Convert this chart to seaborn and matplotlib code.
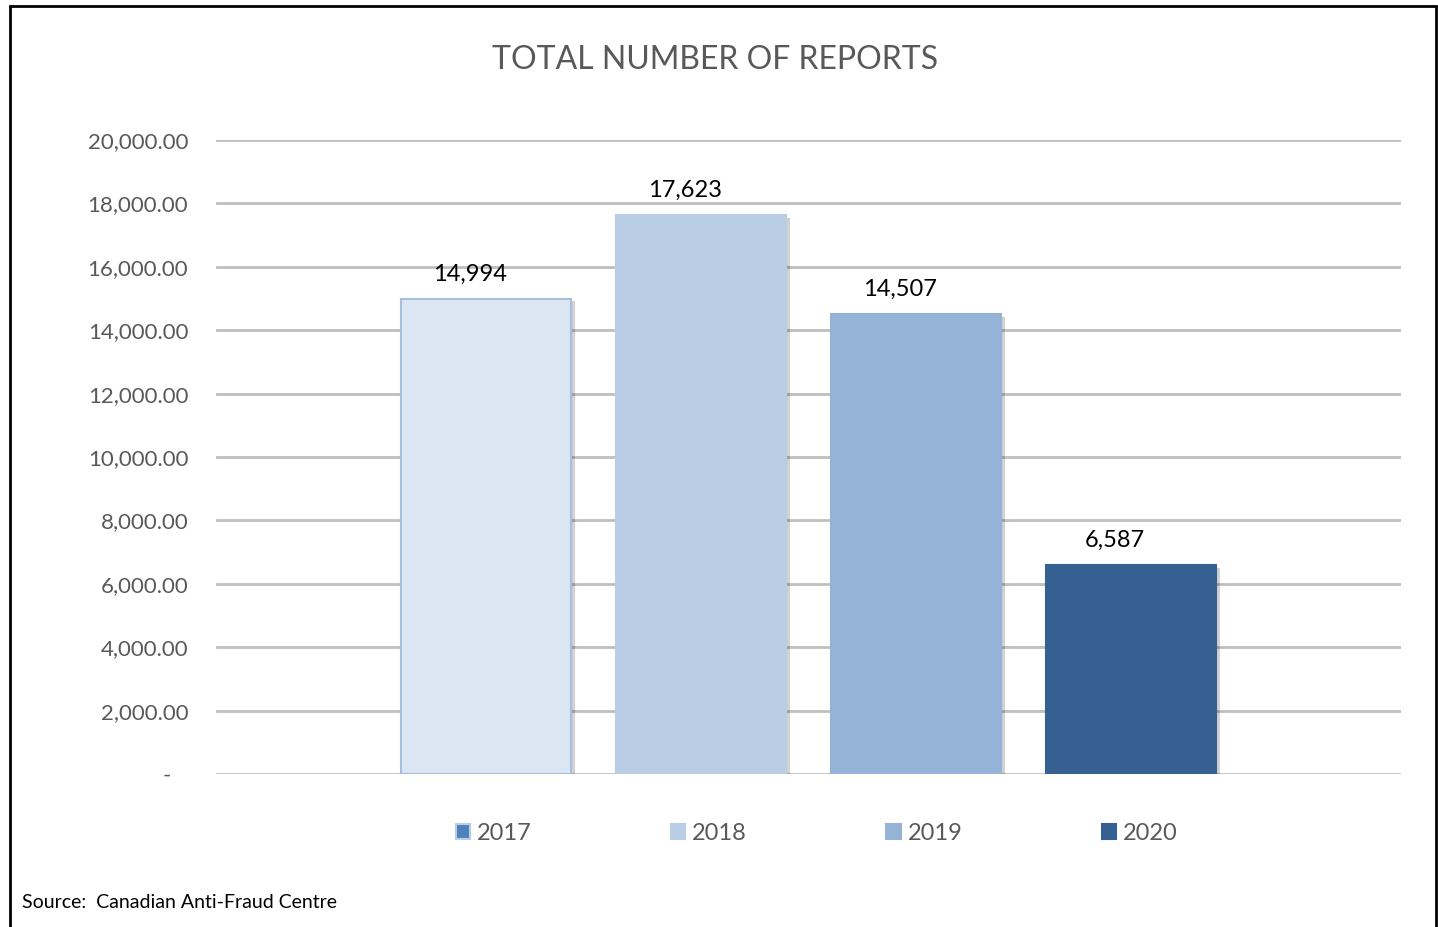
import matplotlib
matplotlib.use("Agg")
import matplotlib.pyplot as plt
import matplotlib.patheffects as pe
from matplotlib.patches import Patch, Rectangle
from matplotlib.ticker import FuncFormatter
import seaborn as sns
import pandas as pd

years = ["2017", "2018", "2019", "2020"]
reports = [14994, 17623, 14507, 6587]
bar_colors = ["#DCE6F2", "#B9CDE5", "#95B3D7", "#376092"]
edge_colors = ["#A7BFDE", "#B9CDE5", "#95B3D7", "#376092"]
legend_colors = ["#4F81BD", "#B9CDE5", "#95B3D7", "#376092"]
yticks = list(range(0, 20001, 2000))

sns.set_theme(style="white")
plt.rcParams['font.family'] = ['Lato', 'DejaVu Sans']

df = pd.DataFrame({"year": years, "reports": reports})

fig = plt.figure(figsize=(14.38, 9.27), dpi=100)
ax = fig.add_axes([216/1438, 1-774/927, (1401-216)/1438, (774-140)/927])

sns.barplot(data=df, x="year", y="reports", hue="year", palette=bar_colors,
            width=0.79, ax=ax, legend=False, saturation=1, zorder=3)

for patch, ec in zip(ax.patches, edge_colors):
    patch.set_edgecolor(ec)
    patch.set_linewidth(1.5)
    patch.set_path_effects([pe.SimplePatchShadow(offset=(3, -2), shadow_rgbFace="#000000", alpha=0.18),
                            pe.Normal()])

ax.set_xlim(-1.256, 4.256)
ax.set_ylim(0, 20000)
ax.set_yticks(yticks)
ax.yaxis.set_major_formatter(FuncFormatter(lambda v, p: "-   " if v == 0 else f"{v:,.2f}"))
ax.tick_params(axis='y', labelsize=16, labelcolor="#595959", length=0, pad=20)
ax.set_xticks([])
ax.set_xlabel("")
ax.set_ylabel("")
for s in ax.spines.values():
    s.set_visible(False)
ax.grid(axis='y', color="#BFBFBF", linewidth=2, zorder=0)
ax.set_axisbelow(True)

for i, v in enumerate(reports):
    ax.text(i - 0.075, v + 450, f"{v:,}", ha="center", va="bottom", fontsize=17, color="#000000")

fig.text(0.497, 1-60/927, "TOTAL NUMBER OF REPORTS", ha="center", va="center",
         fontsize=23, color="#595959")

handles = [Patch(facecolor=c, edgecolor=("#B9CDE5" if i == 0 else c), linewidth=1.5)
           for i, c in enumerate(legend_colors)]
fig.legend(handles, years, loc="center", bbox_to_anchor=(0.568, 1-833/927), ncol=4,
           frameon=False, fontsize=17, labelcolor="#595959", handlelength=0.6,
           handleheight=0.6, handletextpad=0.3, columnspacing=5.9)

fig.text(22/1438, 1-903/927, "Source:  Canadian Anti-Fraud Centre", ha="left", va="center",
         fontsize=14, color="#000000")

fig.add_artist(Rectangle((10/1438, -0.02), 1426/1438, 1.02 - 6/927, transform=fig.transFigure,
                         fill=False, edgecolor="#000000", linewidth=2))

fig.savefig("out.png", dpi=100)
